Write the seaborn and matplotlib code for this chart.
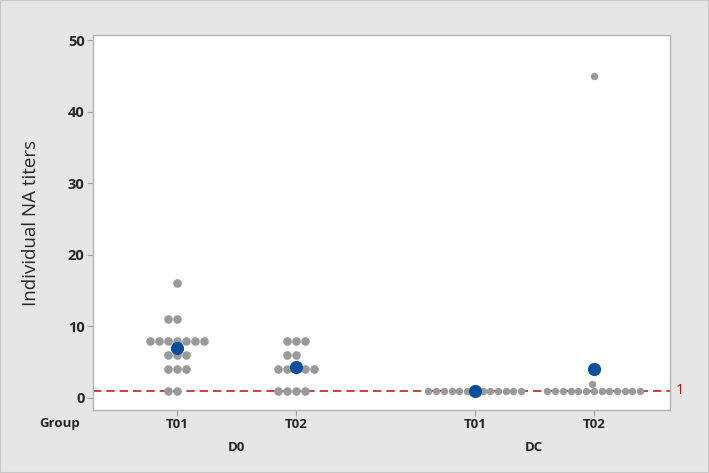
import numpy as np
import pandas as pd
import matplotlib.pyplot as plt
import seaborn as sns

# individual titers
d0_t01 = [16, 11, 11, 8, 8, 8, 8, 8, 8, 8, 6, 6, 6, 4, 4, 4, 1, 1]
d0_t02 = [8, 8, 8, 6, 6, 4, 4, 4, 4, 4, 1, 1, 1, 1]
dc_t01 = [1] * 13
dc_t02 = [45, 2] + [1] * 13

groups = ["T01", "T02", "T01", "T02"]
visits = ["D0", "D0", "DC", "DC"]
xpos = [0, 1, 2.5, 3.5]
series = [d0_t01, d0_t02, dc_t01, dc_t02]

rows = []
for x, g, v, vals in zip(xpos, groups, visits, series):
    for val in vals:
        rows.append({"x": x, "group": g, "visit": v, "titer": val})
df = pd.DataFrame(rows)
means = df.groupby("x", as_index=False)["titer"].mean()

sns.set_style("white")
plt.rcParams["font.family"] = ["Open Sans", "DejaVu Sans"]

fig = plt.figure(figsize=(7.09, 4.73), dpi=100, facecolor="#e6e6e6")
ax = fig.add_axes([0.131, 0.133, 0.814, 0.793])
ax.set_facecolor("white")

# D0 swarms get slightly bigger dots; DC rows are long, so shrink a little
sns.swarmplot(data=df[df["visit"] == "D0"], x="x", y="titer", native_scale=True,
              color="#9a9a9a", size=6.2, linewidth=0, warn_thresh=1, ax=ax)
sns.swarmplot(data=df[df["visit"] == "DC"], x="x", y="titer", native_scale=True,
              color="#9a9a9a", size=5.3, linewidth=0, warn_thresh=1, ax=ax)
sns.scatterplot(data=means, x="x", y="titer", color="#0a4f9e", s=90,
                linewidth=0, zorder=5, ax=ax)

ax.axhline(1, color="#c81e1e", ls=(0, (5, 3)), lw=1.2, zorder=1)
ax.text(1.01, 1, "1", transform=ax.get_yaxis_transform(), color="#b01818",
        va="center", ha="left", fontsize=10.5)

ax.set_xlim(-0.71, 4.14)
ax.set_ylim(-1.7, 50.7)
ax.set_yticks([0, 10, 20, 30, 40, 50])
ax.set_xticks(xpos)
ax.set_xticklabels(groups, fontsize=9.5, fontweight="bold")
for lab in ax.get_yticklabels():
    lab.set_fontsize(10.5)
    lab.set_fontweight("bold")
ax.tick_params(axis="both", length=4, color="#a0a0a0", pad=2, left=True, bottom=True)
ax.set_xlabel("")
ax.set_ylabel("Individual NA titers", fontsize=13.5, labelpad=20)
for sp in ax.spines.values():
    sp.set_color("#b4b4b4")
    sp.set_linewidth(1)

# visit labels under the group labels
for vname, centre in [("D0", 0.5), ("DC", 3.0)]:
    ax.text(centre, -0.1, vname, transform=ax.get_xaxis_transform(),
            ha="center", va="center", fontsize=9.5, fontweight="bold")
ax.text(-0.022, -0.037, "Group", transform=ax.transAxes, ha="right",
        va="center", fontsize=9.5, fontweight="bold")

fig.patches.append(plt.Rectangle((0, 0), 1, 1, transform=fig.transFigure,
                                 fill=False, edgecolor="#c8c8c8", lw=1.5))

fig.savefig("out.png", dpi=100, facecolor=fig.get_facecolor())
